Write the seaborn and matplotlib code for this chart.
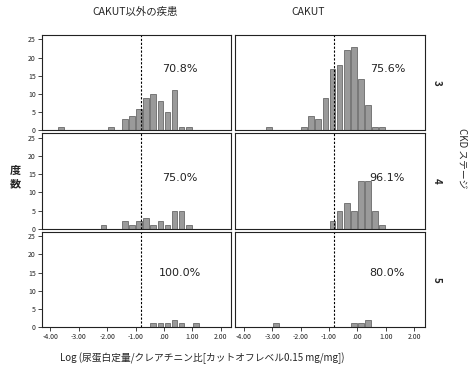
import matplotlib
matplotlib.use("Agg")

import matplotlib.pyplot as plt
import seaborn as sns
import pandas as pd
import numpy as np

# column / row categories
groups = ["CAKUT以外の疾患", "CAKUT"]
stages = ["3", "4", "5"]
cutoff = np.log10(0.15)

# bin centres (log value) and counts
other3_x = [-3.625, -1.875, -1.375, -1.125, -0.875, -0.625, -0.375, -0.125, 0.125, 0.375, 0.625, 0.875]
other3_n = [1, 1, 3, 4, 6, 9, 10, 8, 5, 11, 1, 1]
cakut3_x = [-3.125, -1.875, -1.625, -1.375, -1.125, -0.875, -0.625, -0.375, -0.125, 0.125, 0.375, 0.625, 0.875]
cakut3_n = [1, 1, 4, 3, 9, 17, 18, 22, 23, 14, 7, 1, 1]
other4_x = [-2.125, -1.375, -1.125, -0.875, -0.625, -0.375, -0.125, 0.125, 0.375, 0.625, 0.875]
other4_n = [1, 2, 1, 2, 3, 1, 2, 1, 5, 5, 1]
cakut4_x = [-0.875, -0.625, -0.375, -0.125, 0.125, 0.375, 0.625, 0.875]
cakut4_n = [2, 5, 7, 5, 13, 13, 5, 1]
other5_x = [-0.375, -0.125, 0.125, 0.375, 0.625, 1.125]
other5_n = [1, 1, 1, 2, 1, 1]
cakut5_x = [-2.875, -0.125, 0.125, 0.375]
cakut5_n = [1, 1, 1, 2]

pct_other = ["70.8%", "75.0%", "100.0%"]
pct_cakut = ["75.6%", "96.1%", "80.0%"]

xticks = [-4, -3, -2, -1, 0, 1, 2]
xtick_labels = ["-4.00", "-3.00", "-2.00", "-1.00", ".00", "1.00", "2.00"]
yticks = [0, 5, 10, 15, 20, 25]

panels = [
    [(other3_x, other3_n, pct_other[0]), (cakut3_x, cakut3_n, pct_cakut[0])],
    [(other4_x, other4_n, pct_other[1]), (cakut4_x, cakut4_n, pct_cakut[1])],
    [(other5_x, other5_n, pct_other[2]), (cakut5_x, cakut5_n, pct_cakut[2])],
]

sns.set_style("white")
plt.rcParams["font.family"] = ["Noto Sans CJK JP", "DejaVu Sans"]

fig, axes = plt.subplots(3, 2, figsize=(4.71, 3.73), dpi=100, sharex=True, sharey=True)
fig.subplots_adjust(left=0.089, right=0.902, top=0.906, bottom=0.123, wspace=0.021, hspace=0.032)

text_y = [17, 14, 15]
text_x = [0.55, 1.06]

for r in range(3):
    for c in range(2):
        ax = axes[r, c]
        xs, ns, pct = panels[r][c]
        df = pd.DataFrame({"logv": xs, "n": ns})
        sns.histplot(data=df, x="logv", weights="n", binwidth=0.25, binrange=(-4.5, 2.5),
                     ax=ax, shrink=0.8, color="#9a9a9a", edgecolor="#555555",
                     linewidth=0.5, alpha=1)
        ax.axvline(cutoff, color="black", linestyle="--", linewidth=0.8, dashes=(2, 1.5))
        ax.set_xlim(-4.3, 2.38)
        ax.set_ylim(0, 26.2)
        ax.set_xlabel("")
        ax.set_ylabel("")
        ax.text(text_x[c], text_y[r], pct, ha="center", va="center", fontsize=8,
                family=["DejaVu Sans"], color="#222222")
        for s in ax.spines.values():
            s.set_color("#222222")
            s.set_linewidth(0.8)
        ax.set_xticks(xticks)
        ax.set_xticklabels(xtick_labels)
        ax.set_yticks(yticks)
        ax.tick_params(direction="out", length=3, width=0.6, labelsize=5, pad=1.5,
                       colors="#222222")
        ax.tick_params(bottom=(r == 2), left=(c == 0))
        if c == 1:
            ax.text(1.065, 0.5, stages[r], transform=ax.transAxes, rotation=-90,
                    ha="center", va="center", fontsize=7, fontweight="bold")

fig.text(135 / 471, 0.968, groups[0], ha="center", va="center", fontsize=7.5)
fig.text(308 / 471, 0.968, groups[1], ha="center", va="center", fontsize=7.5)
fig.text(462 / 471, 1 - 158 / 373, "CKD ステージ", rotation=-90, ha="center", va="center", fontsize=7)
fig.text(15 / 471, 1 - 177 / 373, "度\n数", ha="center", va="center", fontsize=8,
         fontweight="bold", linespacing=1.0)
fig.text(202 / 471, 1 - 358 / 373, "Log (尿蛋白定量/クレアチニン比[カットオフレベル0.15 mg/mg])",
         ha="center", va="center", fontsize=7)

plt.savefig("out.png")
plt.close()
